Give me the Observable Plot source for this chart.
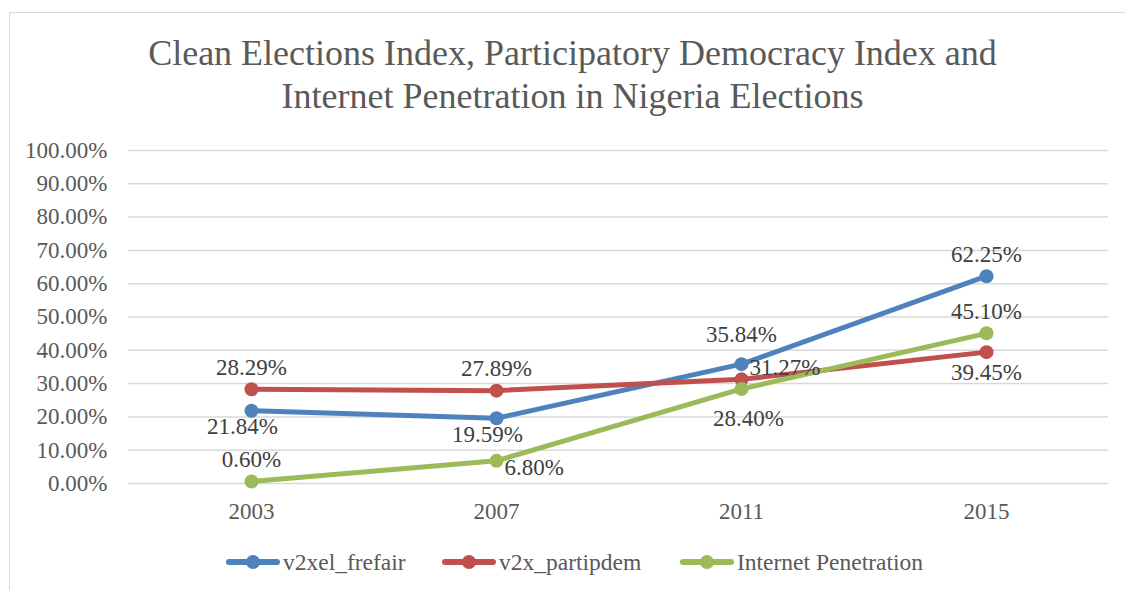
<!DOCTYPE html>
<html>
<head>
<meta charset="utf-8">
<script src="https://cdn.jsdelivr.net/npm/d3@7"></script>
<script src="https://cdn.jsdelivr.net/npm/@observablehq/plot@0.6"></script>
<style>
  html, body { margin: 0; padding: 0; background: #fff; }
  #wrap { position: relative; width: 1125px; height: 590px; overflow: hidden; font-family: 'Liberation Serif', serif; }
  #frame { position: absolute; left: 9px; top: 12px; width: 1130px; height: 600px; border: 1.5px solid #d9d9d9; box-sizing: border-box; }
  #title { position: absolute; left: 0; top: 32px; width: 1145px; text-align: center; font-family: 'Liberation Serif', serif; font-size: 36px; line-height: 43px; color: #595959; }
  #legend { position: absolute; left: 0; top: 549px; width: 1125px; height: 26px; }
  .item { position: absolute; top: 0; display: flex; align-items: center; font-family: 'Liberation Serif', serif; font-size: 23.5px; color: #595959; height: 26px; }
  .sw { position: relative; width: 54px; height: 26px; margin-right: 3px; }
  .sw .ln { position: absolute; left: 0; top: 10px; width: 54px; height: 6px; border-radius: 3px; }
  .sw .dt { position: absolute; left: 20px; top: 6px; width: 14px; height: 14px; border-radius: 50%; }
  #chart { position: absolute; left: 0; top: 0; }
  #chart svg text { font-family: 'Liberation Serif', serif; }
</style>
</head>
<body>
<div id="wrap">
  <div id="frame"></div>
  <div id="chart"></div>
  <div id="title">Clean Elections Index, Participatory Democracy Index and<br>Internet Penetration in Nigeria Elections</div>
  <div id="legend"></div>
</div>
<script>
const years = ["2003", "2007", "2011", "2015"];
const seriesNames = ["v2xel_frefair", "v2x_partipdem", "Internet Penetration"];
const seriesColors = ["#4f81bd", "#c0504d", "#9bbb59"];
const frefair = [0.2184, 0.1959, 0.3584, 0.6225];
const partipdem = [0.2829, 0.2789, 0.3127, 0.3945];
const internet = [0.0060, 0.0680, 0.2840, 0.4510];
const yTicks = [0, 0.1, 0.2, 0.3, 0.4, 0.5, 0.6, 0.7, 0.8, 0.9, 1.0];
// label placement for each series, per year
const frefairPlace = ["belowLeft", "belowLeft", "aboveFar", "above"];
const partipdemPlace = ["above", "above", "rightUp", "below"];
const internetPlace = ["above", "rightDown", "belowFar", "above"];

const seriesValues = [frefair, partipdem, internet];
const seriesPlaces = [frefairPlace, partipdemPlace, internetPlace];

const data = [];
seriesNames.forEach((s, i) => {
  years.forEach((y, j) => {
    data.push({series: s, year: y, value: seriesValues[i][j], place: seriesPlaces[i][j]});
  });
});

const offsets = {
  above: {dx: 0, dy: -22, anchor: "middle"},
  aboveFar: {dx: 0, dy: -30, anchor: "middle"},
  below: {dx: 0, dy: 20, anchor: "middle"},
  belowLeft: {dx: -9, dy: 16, anchor: "middle"},
  belowFar: {dx: 7, dy: 30, anchor: "middle"},
  rightUp: {dx: 8, dy: -12, anchor: "start"},
  rightDown: {dx: 8, dy: 7, anchor: "start"}
};

const fmt = d3.format(".2%");
const font = "'Liberation Serif', serif";

const labelMarks = Object.entries(offsets).map(([name, o]) =>
  Plot.text(data.filter(d => d.place === name), {
    x: "year", y: "value", text: d => fmt(d.value),
    dx: o.dx, dy: o.dy, textAnchor: o.anchor,
    fill: "#404040", fontSize: 23, fontFamily: font
  })
);

const chart = Plot.plot({
  width: 1125,
  height: 590,
  marginTop: 150,
  marginBottom: 107,
  marginLeft: 128,
  marginRight: 17,
  style: {fontFamily: font, background: "transparent", overflow: "visible"},
  x: {type: "point", domain: years, padding: 0.5},
  y: {domain: [0, 1]},
  color: {domain: seriesNames, range: seriesColors},
  marks: [
    Plot.gridY(yTicks, {stroke: "#d9d9d9", strokeOpacity: 1, strokeWidth: 1.5}),
    Plot.axisY(yTicks, {tickSize: 0, tickPadding: 21, tickFormat: fmt, fontSize: 23, fill: "#595959", label: null}),
    Plot.axisX({tickSize: 0, tickPadding: 19, fontSize: 23, fill: "#595959", label: null}),
    Plot.line(data, {x: "year", y: "value", z: "series", stroke: "series", strokeWidth: 5, strokeLinecap: "round", strokeLinejoin: "round"}),
    Plot.dot(data, {x: "year", y: "value", fill: "series", r: 7, stroke: "none"}),
    ...labelMarks
  ]
});
document.getElementById("chart").appendChild(chart);

const legendX = [226, 442, 680];
const legend = document.getElementById("legend");
seriesNames.forEach((s, i) => {
  const item = document.createElement("div");
  item.className = "item";
  item.style.left = legendX[i] + "px";
  item.innerHTML = `<div class="sw"><div class="ln" style="background:${seriesColors[i]}"></div><div class="dt" style="background:${seriesColors[i]}"></div></div><span>${s}</span>`;
  legend.appendChild(item);
});
</script>
</body>
</html>
